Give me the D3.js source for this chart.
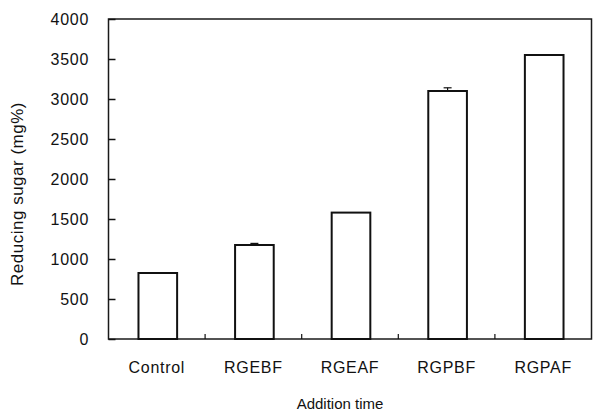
<!DOCTYPE html>
<html>
<head>
<meta charset="utf-8">
<script src="https://cdn.jsdelivr.net/npm/d3@7"></script>
<style>
  body { margin: 0; background: #fff; }
  text { font-family: "Liberation Sans", Arial, sans-serif; fill: #111; }
</style>
</head>
<body>
<div id="chart"></div>
<script>
// data
const categories = ['Control', 'RGEBF', 'RGEAF', 'RGPBF', 'RGPAF'];
const sugar = [825, 1175, 1580, 3100, 3550];
const sugarErr = [0, 20, 0, 40, 0];
const yTicks = [0, 500, 1000, 1500, 2000, 2500, 3000, 3500, 4000];

const svgWidth = 593;
const svgHeight = 415;
const margin = {top: 19, right: 1.5, bottom: 76, left: 108.5};
const width = svgWidth - margin.left - margin.right;
const height = svgHeight - margin.top - margin.bottom;

const svg = d3.select('#chart').append('svg')
    .attr('width', svgWidth)
    .attr('height', svgHeight);
const g = svg.append('g').attr('transform', `translate(${margin.left},${margin.top})`);

const x = d3.scaleBand().domain(categories).range([0, width]).padding(0);
const y = d3.scaleLinear().domain([0, 4000]).range([height, 0]);

// frame
g.append('rect')
    .attr('x', 0).attr('y', 0)
    .attr('width', width).attr('height', height)
    .attr('fill', 'none')
    .attr('stroke', '#1a1a1a')
    .attr('stroke-width', 1.5);

// y axis, ticks pointing inward
const yAxis = g.append('g')
    .call(d3.axisRight(y).tickValues(yTicks).tickSize(7).tickFormat(''));
yAxis.select('.domain').remove();
yAxis.selectAll('line').attr('stroke', '#111').attr('stroke-width', 1.5);

g.selectAll('.ylab').data(yTicks).enter().append('text')
    .attr('class', 'ylab')
    .attr('x', -19.5)
    .attr('y', d => y(d))
    .attr('dy', '0.36em')
    .attr('text-anchor', 'end')
    .style('font-size', '16px')
    .style('letter-spacing', '0.7px')
    .text(d => d);

// x ticks between categories, pointing up
const sep = categories.slice(1).map(c => x(c));
g.selectAll('.xtick').data(sep).enter().append('line')
    .attr('class', 'xtick')
    .attr('x1', d => d).attr('x2', d => d)
    .attr('y1', height).attr('y2', height - 5)
    .attr('stroke', '#111').attr('stroke-width', 1.2);

g.selectAll('.xlab').data(categories).enter().append('text')
    .attr('class', 'xlab')
    .attr('x', d => x(d) + x.bandwidth() / 2)
    .attr('y', height + 34)
    .attr('text-anchor', 'middle')
    .style('font-size', '16px')
    .style('letter-spacing', '0.7px')
    .text(d => d);

// bars
const barW = x.bandwidth() * 0.4;
const data = categories.map((c, i) => ({c: c, v: sugar[i], e: sugarErr[i]}));

g.selectAll('.bar').data(data).enter().append('rect')
    .attr('class', 'bar')
    .attr('x', d => x(d.c) + x.bandwidth() / 2 - barW / 2 + 1)
    .attr('y', d => y(d.v))
    .attr('width', barW)
    .attr('height', d => height - y(d.v))
    .attr('fill', '#fff')
    .attr('stroke', '#111')
    .attr('stroke-width', 2);

// error bars
const eb = g.selectAll('.err').data(data.filter(d => d.e > 0)).enter().append('g').attr('class', 'err');
eb.append('line')
    .attr('x1', d => x(d.c) + x.bandwidth() / 2 + 1)
    .attr('x2', d => x(d.c) + x.bandwidth() / 2 + 1)
    .attr('y1', d => y(d.v))
    .attr('y2', d => y(d.v + d.e))
    .attr('stroke', '#111').attr('stroke-width', 1.2);
eb.append('line')
    .attr('x1', d => x(d.c) + x.bandwidth() / 2 - 3)
    .attr('x2', d => x(d.c) + x.bandwidth() / 2 + 5)
    .attr('y1', d => y(d.v + d.e))
    .attr('y2', d => y(d.v + d.e))
    .attr('stroke', '#111').attr('stroke-width', 1.2);

// axis titles
svg.append('text')
    .attr('transform', 'translate(22.5,194) rotate(-90)')
    .attr('text-anchor', 'middle')
    .style('font-size', '17px')
    .style('letter-spacing', '0.5px')
    .text('Reducing sugar (mg%)');

svg.append('text')
    .attr('x', 340)
    .attr('y', 409)
    .attr('text-anchor', 'middle')
    .style('font-size', '15px')
    .text('Addition time');
</script>
</body>
</html>
